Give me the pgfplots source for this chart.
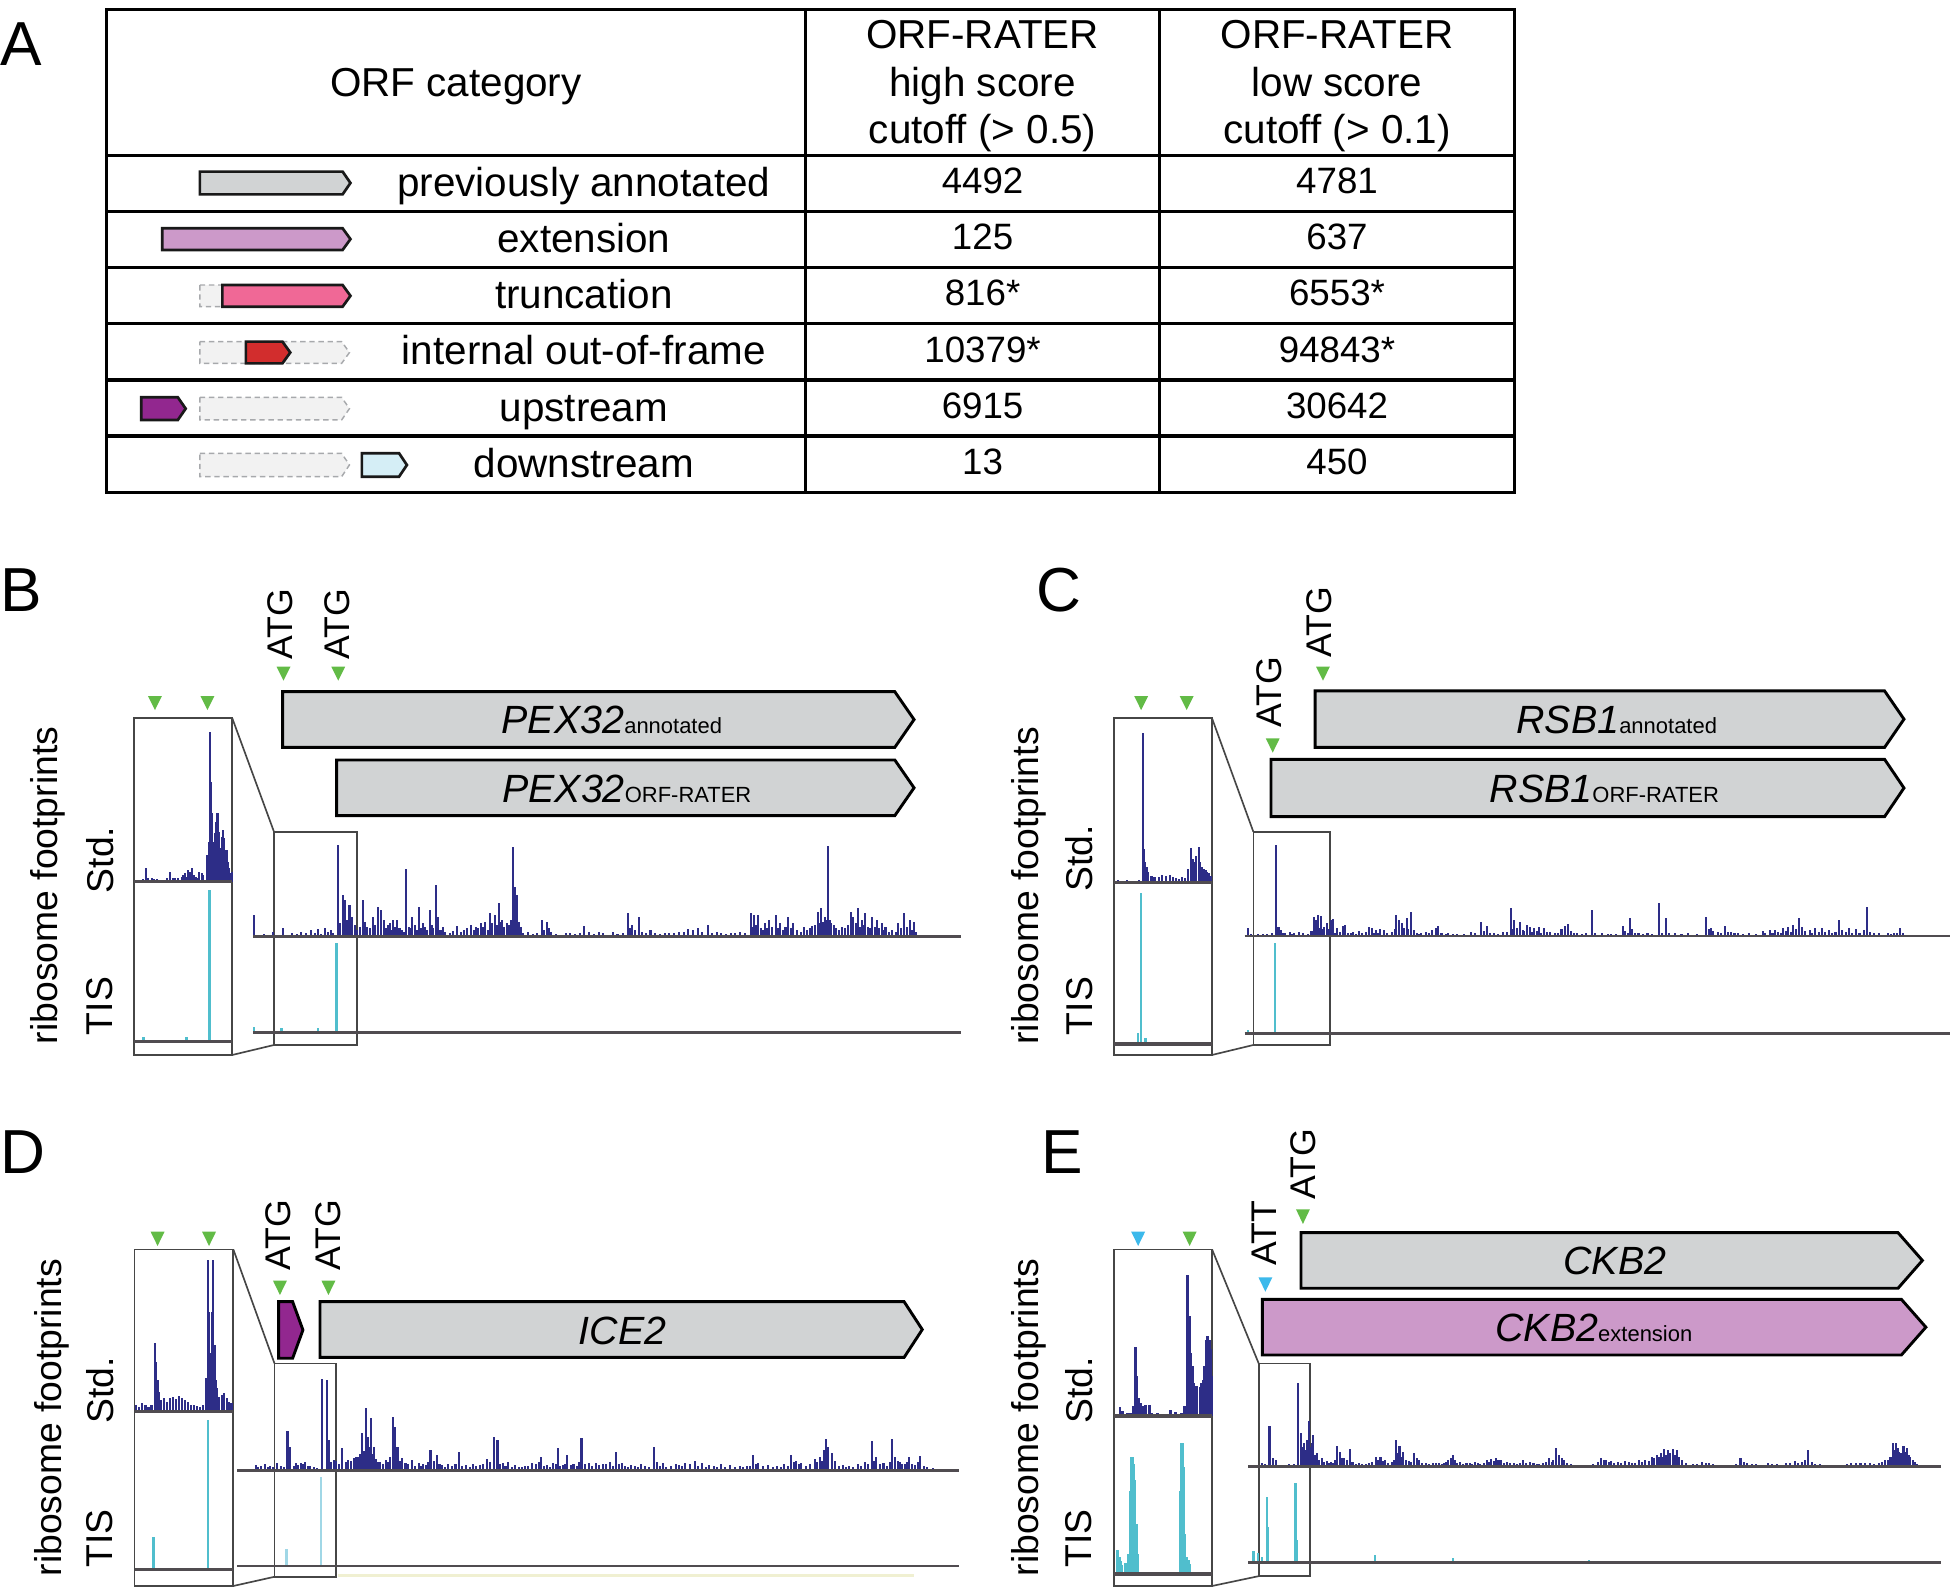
\documentclass[border=0pt]{standalone}
\usepackage{fontspec}
\setmainfont{Liberation Sans}
\usepackage{pgfplots}
\pgfplotsset{compat=1.18}

\definecolor{stdc}{RGB}{45,45,135}
\definecolor{tisc}{RGB}{80,190,205}
\definecolor{tisl}{RGB}{160,215,230}
\definecolor{basec}{RGB}{80,76,80}
\definecolor{grn}{RGB}{98,187,70}
\definecolor{cyn}{RGB}{60,185,235}
\definecolor{geneg}{RGB}{209,211,212}
\definecolor{extc}{RGB}{204,153,201}
\definecolor{trc}{RGB}{240,104,150}
\definecolor{redc}{RGB}{210,45,45}
\definecolor{purc}{RGB}{146,39,143}
\definecolor{lbc}{RGB}{213,238,246}
\definecolor{ghostf}{RGB}{242,242,242}
\definecolor{ghostd}{RGB}{167,169,172}
\definecolor{framec}{RGB}{70,70,70}

\pgfplotsset{
 trk/.style={hide axis, clip=false, enlargelimits=false, ymin=0, ymax=300,
   y=0.080412pt, anchor=south west},
 pos/.style 2 args={at={({#1*0.3pt},{-#2*0.3pt})}},
 zA/.style={x=0.113838pt},
 zB/.style={x=0.109233pt},
 zC/.style={x=0.080412pt},
 zD/.style={x=0.146166pt},
 sp/.style={ycomb, stdc, line width=0.5pt, mark=none},
 tp/.style={ycomb, tisc, line width=0.6pt, mark=none},
 bl/.style={basec, line width=0.6pt, mark=none},
 blt/.style={basec, line width=0.75pt, mark=none},
}

\newcommand{\gene}[6]{%
 \draw[#6] (#1,#3) -- ({#2-#5},#3) -- (#2,{(#3+#4)/2}) -- ({#2-#5},#4) -- (#1,#4) -- cycle;}
\newcommand{\tri}[4]{\fill[#4] ({#1-5.6},#2) -- ({#1+5.6},#2) -- (#1,#3) -- cycle;}
\newcommand{\tfont}{\fontsize{9.75}{11}\selectfont}
\newcommand{\nfont}{\fontsize{8.85}{10}\selectfont}
\newcommand{\gfont}{\fontsize{9.5}{11}\selectfont\itshape}
\newcommand{\sfont}{\fontsize{5.3}{6}\selectfont\upshape}
\newcommand{\afont}{\fontsize{8.6}{10}\selectfont}
\newcommand{\lfont}{\fontsize{9}{10}\selectfont}
\newcommand{\pfont}{\fontsize{15}{17}\selectfont}

\begin{document}
\begin{tikzpicture}[x=0.3pt,y=-0.3pt]
\path[use as bounding box] (0,0) rectangle (1568,1276);

% ================= Panel A: table =================
\node[anchor=base west,inner sep=0pt] at (0,52.3) {\pfont A};
\begin{scope}[line width=0.75pt]
\draw (85.4,8.0) rectangle (1217.8,395.9);
\foreach \yy in {125.2,170.2,215.2,260,305.6,350.6}{\draw (85.4,\yy) -- (1217.8,\yy);}
\draw (647.8,8.0) -- (647.8,395.9);
\draw (932.4,8.0) -- (932.4,395.9);
\end{scope}
\node[anchor=base] at (366.6,77.7) {\tfont ORF category};
\node[anchor=base] at (790.1,38.9) {\tfont ORF-RATER};
\node[anchor=base] at (790.1,77.7) {\tfont high score};
\node[anchor=base] at (790.1,115.8) {\tfont cutoff (> 0.5)};
\node[anchor=base] at (1075.1,38.9) {\tfont ORF-RATER};
\node[anchor=base] at (1075.1,77.7) {\tfont low score};
\node[anchor=base] at (1075.1,115.8) {\tfont cutoff (> 0.1)};
\node[anchor=base] at (469.5,158.2) {\tfont previously annotated};
\node[anchor=base] at (469.5,203.2) {\tfont extension};
\node[anchor=base] at (469.5,248.1) {\tfont truncation};
\node[anchor=base] at (469.5,293.3) {\tfont internal out-of-frame};
\node[anchor=base] at (469.5,338.6) {\tfont upstream};
\node[anchor=base] at (469.5,383.8) {\tfont downstream};
\node[anchor=base] at (790.1,156.0) {\nfont 4492};
\node[anchor=base] at (1075.1,156.0) {\nfont 4781};
\node[anchor=base] at (790.1,201.0) {\nfont 125};
\node[anchor=base] at (1075.1,201.0) {\nfont 637};
\node[anchor=base] at (790.1,245.9) {\nfont 816*};
\node[anchor=base] at (1075.1,245.9) {\nfont 6553*};
\node[anchor=base] at (790.1,291.1) {\nfont 10379*};
\node[anchor=base] at (1075.1,291.1) {\nfont 94843*};
\node[anchor=base] at (790.1,336.4) {\nfont 6915};
\node[anchor=base] at (1075.1,336.4) {\nfont 30642};
\node[anchor=base] at (790.1,381.6) {\nfont 13};
\node[anchor=base] at (1075.1,381.6) {\nfont 450};
\tikzset{gl/.style={draw=black!90,line width=0.65pt}, gh/.style={draw=ghostd,fill=ghostf,line width=0.35pt,dash pattern=on 1.3pt off 0.9pt}}
\gene{160.7}{281.8}{138.0}{156.3}{6.3}{gl,fill=geneg}
\gene{130.4}{281.8}{183.6}{201.0}{6.3}{gl,fill=extc}
\gene{160.7}{281.8}{229.2}{246.6}{6.3}{gh}
\gene{178.8}{281.8}{229.2}{246.6}{6.3}{gl,fill=trc}
\gene{160.7}{281.0}{274.7}{292.2}{6.3}{gh}
\gene{197.7}{233.4}{274.7}{292.2}{6.3}{gl,fill=redc}
\gene{113.6}{149.3}{319.5}{337.7}{6.3}{gl,fill=purc}
\gene{160.7}{281.0}{319.5}{337.7}{6.3}{gh}
\gene{160.7}{281.0}{364.5}{383.3}{6.3}{gh}
\gene{291.0}{327.2}{364.5}{383.3}{6.3}{gl,fill=lbc}

% ================= track labels =================
\node[anchor=base west,inner sep=0pt] at (0,491.9) {\pfont B};
\node[anchor=base west,inner sep=0pt] at (833,491.9) {\pfont C};
\node[anchor=base west,inner sep=0pt] at (0,943.5) {\pfont D};
\node[anchor=base west,inner sep=0pt] at (837,943.5) {\pfont E};

\foreach \xa/\xb/\yr/\ys/\yt in {38.5/80.4/712/691.5/809, 827/868/712.3/690.3/809, 41.4/80.4/1139.9/1118/1237, 827/867.5/1139.9/1118/1237}{
 \node[rotate=90,inner sep=0pt] at (\xa,\yr) {\lfont ribosome footprints};
 \node[rotate=90,inner sep=0pt] at (\xb,\ys) {\lfont Std.};
 \node[rotate=90,inner sep=0pt] at (\xb,\yt) {\lfont TIS};
}

\tikzset{bg/.style={draw=black,line width=0.7pt}, fr/.style={draw=framec,line width=0.4pt}}

% ================= Panel B =================
\gene{227.3}{735}{556.2}{601}{15.5}{bg,fill=geneg}
\gene{270.7}{735}{611.1}{655.9}{15.5}{bg,fill=geneg}
\node[anchor=base] at (492,590) {\gfont PEX32\sfont annotated};
\node[anchor=base] at (504,644.9) {\gfont PEX32\sfont ORF-RATER};
\tri{228.0}{536.1}{547.3}{grn}
\tri{272.0}{536.1}{547.3}{grn}
\node[rotate=90,anchor=west,inner sep=0pt] at (225.5,530.7) {\afont ATG};
\node[rotate=90,anchor=west,inner sep=0pt] at (271.3,530.7) {\afont ATG};
\tri{124.6}{559.7}{571}{grn}
\tri{166.8}{559.7}{571}{grn}
\draw[fr] (108.0,577.6) rectangle (186.8,848.3);
\draw[fr] (220.3,668.8) rectangle (287.1,840.3);
\draw[fr] (186.8,577.6) -- (220.3,668.8);
\draw[fr] (186.8,848.3) -- (220.3,840.3);

\begin{axis}[trk,zA,xmin=28,xmax=1527,pos={203.6}{753.2}]
\addplot[sp] coordinates {(30,65) (70,15) (92,25) (110,10) (130,15) (150,20) (165,22) (180,25) (192,20) (207,275) (218,125) (222,110) (232,95) (238,60) (260,110) (270,30) (282,60) (292,88) (298,80) (305,50) (318,40) (325,50) (332,50) (352,202) (358,30) (365,60) (380,90) (388,40) (402,80) (415,155) (420,60) (430,30) (460,32) (490,35) (500,30) (510,40) (520,45) (530,70) (540,65) (548,100) (555,50) (565,40) (578,270) (582,150) (588,125) (595,30) (610,15) (640,50) (650,45) (660,15) (690,10) (730,32) (760,15) (790,15) (822,70) (830,35) (845,60) (870,20) (900,12) (930,15) (950,22) (970,25) (992,35) (1010,15) (1040,12) (1060,15) (1082,70) (1090,65) (1098,65) (1112,40) (1122,50) (1135,65) (1145,40) (1162,60) (1172,40) (1195,30) (1212,32) (1225,75) (1232,85) (1240,60) (1246,272) (1250,50) (1258,35) (1275,30) (1295,75) (1300,60) (1310,85) (1318,50) (1325,70) (1340,60) (1350,50) (1360,40) (1368,30) (1395,40) (1408,70) (1420,50) (1428,45)};
\addplot[sp] coordinates {(40,5) (50,8) (60,4) (80,6) (100,5) (120,8) (140,10) (158,12) (172,8) (186,15) (198,12) (212,40) (227,50) (243,35) (248,20) (254,30) (265,45) (276,25) (287,35) (310,25) (314,35) (322,20) (328,30) (338,25) (344,20) (348,15) (362,25) (370,35) (375,20) (384,25) (392,30) (396,20) (407,35) (410,25) (425,20) (435,15) (445,12) (452,18) (468,15) (475,20) (482,25) (495,20) (505,25) (515,30) (525,20) (535,40) (545,35) (552,45) (560,30) (570,35) (575,50) (585,60) (592,45) (600,10) (620,8) (630,10) (645,20) (655,25) (670,8) (680,6) (700,10) (710,8) (720,12) (740,15) (750,8) (770,10) (780,6) (800,8) (812,12) (826,25) (838,20) (852,15) (860,10) (880,12) (890,8) (910,10) (920,12) (940,15) (960,20) (980,15) (1000,10) (1020,12) (1030,8) (1050,10) (1070,12) (1086,30) (1094,35) (1104,25) (1108,20) (1117,25) (1128,30) (1140,25) (1150,20) (1156,30) (1167,25) (1180,20) (1188,15) (1202,20) (1207,25) (1218,35) (1228,40) (1236,45) (1243,50) (1253,40) (1263,25) (1270,20) (1282,25) (1288,35) (1305,40) (1315,30) (1322,35) (1330,30) (1336,25) (1345,30) (1355,25) (1364,20) (1375,15) (1382,20) (1390,15) (1400,25) (1413,30) (1425,20) (1432,15)};
\addplot[bl] coordinates {(28,0) (1527,0)};
\end{axis}
\begin{axis}[trk,zA,xmin=28,xmax=1527,pos={203.6}{830.4}]
\addplot[tp] coordinates {(30,18) (88,13) (165,13) (205,268)};
\addplot[bl] coordinates {(28,0) (1527,0)};
\end{axis}
\begin{axis}[trk,zC,xmin=403,xmax=697,ymax=490,pos={108.0}{709.0}]
\addplot[sp] coordinates {(415,3) (438,40) (455,10) (470,7) (490,5) (510,30) (525,10) (545,15) (555,25) (565,35) (575,40) (582,20) (598,30) (605,25) (620,65) (626,95) (630,450) (635,205) (640,85) (645,145) (650,205) (655,205) (660,85) (665,135) (670,155) (675,95) (680,95) (685,35) (692,25)};
\addplot[sp] coordinates {(420,5) (430,8) (445,10) (462,8) (480,6) (500,10) (518,12) (535,10) (550,20) (560,15) (570,30) (588,15) (593,10) (610,20) (622,80) (628,120) (633,300) (637,150) (642,120) (648,180) (652,160) (658,150) (662,100) (668,120) (672,130) (678,80) (683,60) (688,40) (695,30)};
\addplot[blt] coordinates {(403,0) (697,0)};
\end{axis}
\begin{axis}[trk,zC,xmin=403,xmax=697,ymax=480,pos={108.0}{837.6}]
\addplot[tp] coordinates {(430,15) (560,15) (628,455)};
\addplot[blt] coordinates {(403,0) (697,0)};
\end{axis}

% ================= Panel C =================
\gene{1057.5}{1531}{555.6}{601}{15.6}{bg,fill=geneg}
\gene{1022}{1531}{610.6}{656.7}{15.6}{bg,fill=geneg}
\node[anchor=base] at (1300,589.6) {\gfont RSB1\sfont annotated};
\node[anchor=base] at (1290,645) {\gfont RSB1\sfont ORF-RATER};
\tri{1023.4}{593.7}{605.2}{grn}
\tri{1063.8}{536.0}{547.3}{grn}
\node[rotate=90,anchor=west,inner sep=0pt] at (1020.9,585.6) {\afont ATG};
\node[rotate=90,anchor=west,inner sep=0pt] at (1060.9,529.4) {\afont ATG};
\tri{917.6}{559.7}{571}{grn}
\tri{954.2}{559.7}{571}{grn}
\draw[fr] (895.7,577.6) rectangle (974.6,848.3);
\draw[fr] (1007.8,668.8) rectangle (1069.6,840.3);
\draw[fr] (974.6,577.6) -- (1007.8,668.8);
\draw[fr] (974.6,848.3) -- (1007.8,840.3);

\begin{axis}[trk,zB,xmin=10,xmax=1568,pos={1000.7}{752.7}]
\addplot[sp] coordinates {(18,23) (40,6) (80,273) (85,28) (90,18) (110,13) (120,10) (130,13) (163,58) (168,48) (172,63) (178,60) (185,28) (192,38) (200,48) (206,50) (215,23) (228,30) (232,33) (250,13) (262,16) (285,28) (292,23) (300,18) (310,20) (318,18) (345,63) (352,48) (358,38) (368,53) (378,73) (385,18) (400,10) (410,13) (425,18) (432,23) (438,30) (460,8) (480,6) (510,13) (532,43) (545,30) (560,8) (580,13) (598,83) (605,48) (618,43) (625,18) (633,33) (640,28) (650,23) (660,26) (672,23) (685,13) (710,20) (718,30) (725,36) (745,10) (765,8) (778,78) (800,8) (820,6) (845,30) (862,55) (872,10) (900,10) (925,98) (940,53) (960,8) (990,8) (1030,58) (1040,23) (1055,13) (1072,30) (1085,13) (1100,10) (1125,8) (1155,16) (1170,18) (1182,18) (1200,23) (1210,28) (1222,33) (1235,53) (1242,28) (1258,18) (1270,23) (1285,23) (1300,18) (1322,48) (1330,18) (1345,23) (1360,20) (1378,18) (1385,88) (1400,10) (1430,8) (1445,10) (1458,23) (1515,3)};
\addplot[sp] coordinates {(25,5) (35,4) (50,5) (60,6) (70,8) (95,8) (100,10) (115,6) (140,8) (150,6) (158,15) (175,25) (182,20) (196,20) (203,15) (210,10) (220,12) (238,10) (245,8) (256,6) (270,10) (278,12) (296,10) (305,8) (325,10) (335,12) (342,20) (362,25) (372,20) (390,8) (395,6) (418,10) (445,8) (455,6) (470,5) (495,6) (520,10) (538,15) (552,10) (570,6) (590,12) (602,20) (612,25) (628,15) (645,12) (655,15) (665,10) (678,12) (695,8) (702,10) (730,15) (738,8) (755,5) (785,8) (812,5) (830,6) (850,15) (856,10) (866,20) (880,8) (890,6) (910,5) (932,8) (948,10) (975,6) (1010,5) (1035,20) (1045,15) (1062,10) (1078,12) (1092,8) (1110,6) (1140,6) (1160,8) (1176,10) (1188,12) (1195,10) (1205,15) (1216,12) (1228,20) (1248,15) (1263,10) (1278,12) (1292,12) (1308,10) (1315,12) (1338,12) (1352,10) (1368,10) (1392,12) (1412,8) (1438,6) (1450,8) (1465,10)};
\addplot[bl] coordinates {(10,0) (1568,0)};
\end{axis}
\begin{axis}[trk,zB,xmin=10,xmax=1568,pos={1000.7}{830.9}]
\addplot[tp] coordinates {(18,10) (77,270)};
\addplot[bl] coordinates {(10,0) (1568,0)};
\end{axis}
\begin{axis}[trk,zD,xmin=188,xmax=350,ymax=490,pos={895.7}{709.5}]
\addplot[sp] coordinates {(195,7) (236,447) (240,62) (245,32) (255,17) (268,22) (280,22) (290,12) (300,17) (315,102) (320,62) (328,107) (333,47) (340,37) (345,27)};
\addplot[sp] coordinates {(200,5) (210,6) (220,5) (230,8) (238,100) (243,45) (250,20) (262,15) (274,18) (285,15) (295,10) (305,12) (310,40) (318,70) (324,80) (330,60) (337,40) (342,30) (348,20)};
\addplot[blt] coordinates {(188,0) (350,0)};
\end{axis}
\begin{axis}[trk,zD,xmin=188,xmax=350,ymax=480,pos={895.7}{839.5}]
\addplot[tp] coordinates {(228,32) (233,452) (240,17)};
\addplot[blt] coordinates {(188,0) (350,0)};
\end{axis}

% ================= Panel D =================
\gene{224.1}{243.6}{1046.7}{1092.2}{8.3}{bg,fill=purc}
\gene{257.3}{741.6}{1046.7}{1091.5}{14.6}{bg,fill=geneg}
\node[anchor=base] at (500.7,1080.8) {\gfont ICE2};
\tri{225.1}{1029.8}{1041.3}{grn}
\tri{264.1}{1029.8}{1041.3}{grn}
\node[rotate=90,anchor=west,inner sep=0pt] at (224.1,1022.6) {\afont ATG};
\node[rotate=90,anchor=west,inner sep=0pt] at (263.6,1022.6) {\afont ATG};
\tri{126.7}{990.4}{1001.9}{grn}
\tri{168.1}{990.4}{1001.9}{grn}
\draw[fr] (108.2,1004.6) rectangle (187.6,1275.3);
\draw[fr] (220.7,1096.3) rectangle (270.4,1267.9);
\draw[fr] (187.6,1004.6) -- (220.7,1096.3);
\draw[fr] (187.6,1275.3) -- (220.7,1267.9);

\begin{axis}[trk,zA,xmin=15,xmax=1545,pos={190.6}{1182.6}]
\addplot[sp] coordinates {(55,17) (75,20) (85,14) (100,22) (122,120) (128,72) (140,22) (150,24) (160,27) (170,14) (195,274) (205,272) (210,92) (220,32) (238,67) (250,32) (262,37) (268,42) (280,112) (288,187) (292,102) (298,157) (305,72) (318,27) (330,32) (345,162) (350,132) (355,72) (365,37) (372,22) (385,32) (400,24) (410,20) (425,62) (438,47) (450,17) (462,20) (485,57) (500,17) (515,20) (530,17) (545,34) (560,102) (567,92) (578,22) (590,27) (605,17) (625,14) (640,22) (660,40) (672,17) (685,22) (695,67) (705,17) (715,47) (728,20) (745,97) (760,22) (775,24) (790,20) (805,27) (818,57) (830,22) (850,17) (872,20) (898,70) (905,27) (918,24) (945,20) (965,22) (985,30) (1000,22) (1015,17) (1040,20) (1060,17) (1080,14) (1095,14) (1108,47) (1120,22) (1140,17) (1160,14) (1175,20) (1188,47) (1200,30) (1210,22) (1240,34) (1250,42) (1258,62) (1263,94) (1268,72) (1275,52) (1300,17) (1312,14) (1330,20) (1345,27) (1360,90) (1370,42) (1385,22) (1403,94) (1410,42) (1420,27) (1430,20) (1440,42) (1452,17) (1463,44) (1490,7)};
\addplot[sp] coordinates {(60,12) (65,15) (80,10) (92,12) (108,15) (115,10) (135,15) (145,18) (155,20) (165,15) (178,10) (185,8) (215,25) (225,30) (232,20) (245,25) (256,30) (272,40) (276,50) (284,60) (295,70) (302,50) (310,35) (314,25) (324,20) (336,25) (340,40) (360,30) (378,20) (392,15) (405,15) (415,18) (420,25) (432,30) (444,20) (456,12) (470,15) (478,20) (492,15) (508,12) (522,15) (536,20) (552,25) (573,20) (584,15) (598,12) (612,10) (618,12) (632,15) (648,20) (655,25) (666,15) (678,12) (690,20) (700,15) (710,20) (722,18) (735,15) (740,25) (752,20) (768,15) (782,18) (797,20) (812,15) (825,20) (838,15) (843,12) (858,15) (865,12) (880,15) (888,12) (912,15) (925,12) (935,15) (952,18) (958,15) (975,20) (992,15) (1008,12) (1025,15) (1032,10) (1050,12) (1070,10) (1088,12) (1102,15) (1115,20) (1130,15) (1150,12) (1168,10) (1182,15) (1195,25) (1205,20) (1220,15) (1230,20) (1245,25) (1254,30) (1282,30) (1290,15) (1305,10) (1320,12) (1338,15) (1352,20) (1365,30) (1378,20) (1393,15) (1398,25) (1415,30) (1425,20) (1435,25) (1446,20) (1458,25) (1470,15) (1478,10)};
\addplot[bl] coordinates {(15,0) (1545,0)};
\end{axis}
\begin{axis}[trk,zA,xmin=15,xmax=1545,pos={190.6}{1259.2}]
\addplot[ycomb, tisl, line width=0.6pt, mark=none] coordinates {(120,50) (193,268)};
\addplot[bl] coordinates {(15,0) (1545,0)};
\addplot[color={rgb,255:red,240;green,240;blue,210}, line width=0.6pt, mark=none] coordinates {(230,-28) (1450,-28)};
\end{axis}
\begin{axis}[trk,zD,xmin=222,xmax=385,ymax=490,pos={108.2}{1135.2}]
\addplot[sp] coordinates {(225,20) (235,25) (245,15) (255,205) (260,95) (265,35) (275,30) (285,45) (295,47) (305,35) (315,20) (330,15) (343,455) (347,175) (352,455) (356,95) (362,45) (370,55) (378,30)};
\addplot[sp] coordinates {(230,15) (240,20) (250,20) (257,150) (262,60) (270,40) (280,40) (290,38) (300,40) (310,30) (320,20) (325,18) (335,20) (340,100) (345,300) (350,300) (354,200) (358,70) (366,50) (374,40) (382,25)};
\addplot[blt] coordinates {(222,0) (385,0)};
\end{axis}
\begin{axis}[trk,zD,xmin=222,xmax=385,ymax=470,pos={108.2}{1261.9}]
\addplot[tp] coordinates {(253,98) (343,448)};
\addplot[blt] coordinates {(222,0) (385,0)};
\end{axis}

% ================= Panel E =================
\gene{1046.1}{1545.8}{991.2}{1035.9}{19.6}{bg,fill=geneg}
\gene{1015.1}{1548.6}{1044.8}{1089.6}{19.7}{bg,fill=extc}
\node[anchor=base] at (1298.6,1024.9) {\gfont CKB2};
\node[anchor=base] at (1281.6,1078.6) {\gfont CKB2\sfont extension};
\tri{1017.5}{1027.1}{1038.7}{cyn}
\tri{1047.7}{972.4}{984.2}{grn}
\node[rotate=90,anchor=west,inner sep=0pt] at (1016.9,1018.6) {\afont ATT};
\node[rotate=90,anchor=west,inner sep=0pt] at (1047.7,965) {\afont ATG};
\tri{915.2}{990.4}{1001.9}{cyn}
\tri{956.6}{990.4}{1001.9}{grn}
\draw[fr] (895.7,1004.6) rectangle (974.6,1275.3);
\draw[fr] (1012.1,1096.3) rectangle (1053.6,1267.4);
\draw[fr] (974.6,1004.6) -- (1012.1,1096.3);
\draw[fr] (974.6,1275.3) -- (1012.1,1267.4);

\begin{axis}[trk,zB,xmin=18,xmax=1548,pos={1003.7}{1179.4}]
\addplot[sp] coordinates {(48,10) (65,122) (72,25) (80,20) (108,8) (128,252) (135,100) (142,70) (148,80) (152,138) (158,70) (162,95) (170,40) (180,25) (192,18) (200,15) (215,62) (220,45) (230,25) (242,52) (250,15) (270,8) (285,10) (300,28) (310,30) (320,20) (345,80) (352,62) (360,45) (372,18) (385,40) (395,20) (410,12) (425,10) (440,12) (450,10) (460,20) (470,35) (485,15) (500,10) (518,15) (530,8) (545,20) (555,22) (565,25) (575,20) (590,15) (605,10) (625,20) (640,15) (660,8) (682,25) (698,55) (705,35) (715,20) (730,8) (750,5) (770,5) (798,25) (808,20) (820,18) (835,15) (850,18) (865,12) (880,20) (895,20) (910,28) (920,35) (930,40) (937,52) (945,50) (955,54) (965,50) (975,20) (1000,8) (1020,15) (1035,12) (1060,5) (1080,5) (1105,25) (1120,12) (1140,8) (1165,10) (1185,8) (1205,12) (1225,18) (1240,15) (1255,50) (1270,8) (1300,5) (1330,6) (1350,10) (1370,12) (1390,10) (1410,12) (1425,20) (1435,30) (1442,70) (1448,72) (1455,45) (1465,62) (1472,55) (1480,30) (1490,15)};
\addplot[sp] coordinates {(55,8) (90,5) (100,6) (115,5) (120,8) (138,60) (145,50) (155,60) (165,35) (175,20) (186,15) (196,12) (206,10) (210,20) (225,25) (236,20) (246,15) (256,8) (262,10) (278,8) (292,15) (305,20) (315,18) (326,12) (335,15) (340,20) (348,40) (356,30) (366,20) (378,15) (390,25) (402,10) (418,8) (432,10) (446,8) (455,15) (465,25) (475,20) (480,10) (492,8) (507,10) (512,8) (525,10) (538,12) (550,15) (560,18) (570,20) (582,12) (597,10) (612,8) (618,12) (632,10) (648,12) (655,8) (668,10) (675,15) (688,15) (692,20) (710,25) (722,10) (740,6) (760,5) (780,8) (790,15) (803,20) (814,15) (826,12) (842,12) (858,15) (872,10) (888,15) (902,18) (915,25) (925,30) (934,30) (941,35) (950,40) (960,35) (970,30) (985,10) (1010,8) (1028,10) (1045,8) (1070,5) (1095,8) (1112,15) (1130,8) (1152,6) (1175,8) (1195,6) (1215,10) (1232,12) (1248,20) (1262,15) (1280,8) (1315,6) (1340,8) (1360,10) (1380,10) (1400,8) (1418,15) (1430,20) (1438,30) (1445,50) (1452,55) (1460,40) (1468,45) (1476,35) (1485,20) (1495,8)};
\addplot[bl] coordinates {(18,0) (1548,0)};
\end{axis}
\begin{axis}[trk,zB,xmin=18,xmax=1548,pos={1003.7}{1256.6}]
\addplot[tp] coordinates {(30,36) (40,28) (48,18) (60,198) (62,108) (122,238) (125,68) (298,23) (470,13) (770,8)};
\addplot[bl] coordinates {(18,0) (1548,0)};
\end{axis}
\begin{axis}[trk,zD,xmin=188,xmax=350,ymax=490,pos={895.7}{1138.6}]
\addplot[sp, line width=0.7pt] coordinates {(198,28) (210,8) (224,208) (228,53) (232,38) (240,33) (246,33) (260,8) (282,18) (310,423) (315,188) (320,98) (330,88) (336,108) (340,228) (345,228) (348,168)};
\addplot[sp, line width=0.7pt] coordinates {(202,15) (215,10) (220,30) (226,120) (236,30) (250,10) (270,5) (290,12) (300,10) (305,30) (312,300) (318,150) (325,90) (333,100) (338,150) (343,240) (347,200) (349,120)};
\addplot[blt] coordinates {(188,0) (350,0)};
\end{axis}
\begin{axis}[trk,zD,xmin=188,xmax=350,ymax=470,pos={895.7}{1265.7}]
\addplot[tp, line width=0.9pt] coordinates {(194,72) (200,27) (208,32) (218,352) (222,282) (300,392) (305,52) (310,42)};
\addplot[tp, line width=0.9pt] coordinates {(196,50) (198,40) (212,60) (216,250) (220,330) (224,150) (226,60) (298,250) (302,320) (304,120) (308,50) (312,30)};
\addplot[blt] coordinates {(188,0) (350,0)};
\end{axis}

\end{tikzpicture}
\end{document}
